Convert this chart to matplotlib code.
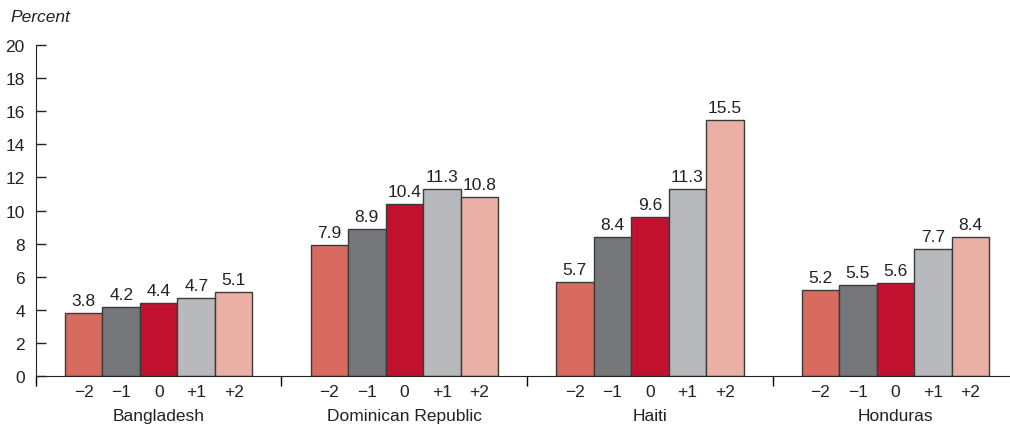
import numpy as np
import matplotlib.pyplot as plt

plt.rcParams['font.family'] = ['Liberation Sans', 'DejaVu Sans']

pays = ["Bangladesh", "Dominican Republic", "Haiti", "Honduras"]
periodes = ["\u22122", "\u22121", "0", "+1", "+2"]
valeurs = [
    [3.8, 4.2, 4.4, 4.7, 5.1],
    [7.9, 8.9, 10.4, 11.3, 10.8],
    [5.7, 8.4, 9.6, 11.3, 15.5],
    [5.2, 5.5, 5.6, 7.7, 8.4],
]
couleurs = ["#D76B5F", "#76777B", "#C1112F", "#B8B9BD", "#EAB0A6"]

taille = 12.5

fig = plt.figure(figsize=(10.1, 4.27), dpi=100)
ax = fig.add_axes([0.0356, 0.117, 0.9644, 0.775])

largeur = 0.1527
positions_ticks = []
for i, serie in enumerate(valeurs):
    for j, v in enumerate(serie):
        x = i + (j - 2) * largeur
        ax.bar(x, v, width=largeur, color=couleurs[j], edgecolor="#3a3a3a", linewidth=1.0, zorder=2)
        ax.text(x, v + 0.3, f"{v:.1f}", ha="center", va="bottom", fontsize=taille, color="#222222")
        positions_ticks.append((x, periodes[j]))
    ax.text(i, -2.4, pays[i], ha="center", va="center", fontsize=taille, color="#222222")

ax.set_xlim(-0.5, 3.467)
ax.set_ylim(0, 20)
ax.set_yticks(np.arange(0, 21, 2))
# les ticks de l'axe y pointent vers l'interieur
ax.tick_params(axis="y", direction="in", length=7, width=1, labelsize=taille, colors="#222222", pad=8)

# separateurs de groupes en ticks majeurs, periodes en ticks mineurs
ax.set_xticks([-0.5, 0.5, 1.5, 2.5])
ax.set_xticklabels([])
ax.tick_params(axis="x", which="major", direction="out", length=7, width=1)
ax.set_xticks([p[0] for p in positions_ticks], minor=True)
ax.set_xticklabels([p[1] for p in positions_ticks], minor=True)
ax.tick_params(axis="x", which="minor", length=0, labelsize=taille, pad=6, colors="#222222")

for s in ["top", "right"]:
    ax.spines[s].set_visible(False)
ax.spines["left"].set_color("#222222")
ax.spines["bottom"].set_color("#222222")

fig.text(0.0099, 0.958, "Percent", fontsize=taille, style="italic", ha="left", va="center", color="#222222")

fig.savefig("out.png", dpi=100)
